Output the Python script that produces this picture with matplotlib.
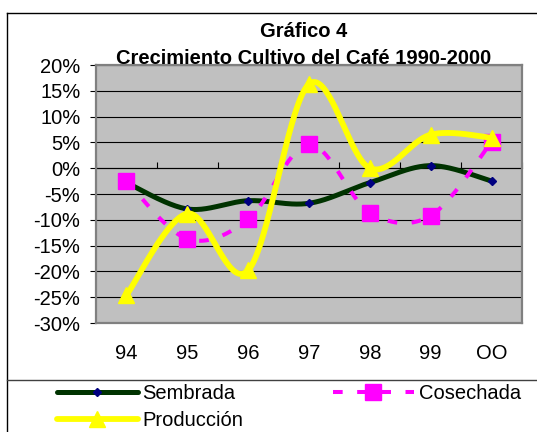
import numpy as np
import matplotlib
matplotlib.use("Agg")
import matplotlib.pyplot as plt
from matplotlib.lines import Line2D

years = ['94', '95', '96', '97', '98', '99', 'OO']
sembrada = [-2.8, -7.9, -6.3, -6.8, -2.8, 0.5, -2.5]
cosechada = [-2.5, -13.7, -9.9, 4.6, -8.6, -9.2, 5.1]
produccion = [-24.6, -8.8, -19.8, 16.3, 0.0, 6.5, 5.9]
yticks = [20, 15, 10, 5, 0, -5, -10, -15, -20, -25, -30]
title_lines = ['Gráfico 4', 'Crecimiento Cultivo del Café 1990-2000']
series_names = ['Sembrada', 'Cosechada', 'Producción']

plt.rcParams['font.family'] = ['Liberation Sans', 'DejaVu Sans']
FS = 14.5

W, H = 537, 432
fig = plt.figure(figsize=(W / 100, H / 100), dpi=100)


def smooth(x, y, n=40):
    pts = np.column_stack([x, y]).astype(float)
    P = np.vstack([pts[0], pts, pts[-1]])
    out = []
    t = np.linspace(0, 1, n)[:, None]
    for i in range(len(pts) - 1):
        p0, p1, p2, p3 = P[i], P[i + 1], P[i + 2], P[i + 3]
        c = 0.5 * ((2 * p1) + (-p0 + p2) * t + (2 * p0 - 5 * p1 + 4 * p2 - p3) * t ** 2
                   + (-p0 + 3 * p1 - 3 * p2 + p3) * t ** 3)
        out.append(c if i == 0 else c[1:])
    c = np.vstack(out)
    return c[:, 0], c[:, 1]


# titles
fig.text(304 / W, 1 - 37.3 / H, title_lines[0], ha='center', va='baseline',
         fontsize=FS, fontweight='bold')
fig.text(304 / W, 1 - 63.5 / H, title_lines[1], ha='center', va='baseline',
         fontsize=FS, fontweight='bold')

left, right, top, bottom = 96, 522, 65, 323
ax = fig.add_axes([left / W, 1 - bottom / H, (right - left) / W, (bottom - top) / H])
ax.set_facecolor('#C0C0C0')
ax.set_zorder(2)

x = np.arange(len(years))
ax.set_xlim(-0.5, len(years) - 0.5)
ax.set_ylim(-30, 20)

for v in yticks:
    ax.axhline(v, color='black', lw=0.8, zorder=1)

DASH = (2.4, 3.6)

# Sembrada
sx, sy = smooth(x, sembrada)
ax.plot(sx, sy, color='#003300', lw=3.6, zorder=3, solid_capstyle='round')
ax.plot(x, sembrada, ls='none', marker='D', ms=4, color='#000080', zorder=3.1)

# Cosechada
cx, cy = smooth(x, cosechada)
ax.plot(cx, cy, color='#FF00FF', lw=2.9, dashes=DASH, zorder=4)
ax.plot(x, cosechada, ls='none', marker='s', ms=11, color='#FF00FF', zorder=4.1)

# Producción
px_, py_ = smooth(x, produccion)
ax.plot(px_, py_, color='#FFFF00', lw=4.2, zorder=5, solid_capstyle='round')
ax.plot(x, produccion, ls='none', marker='^', ms=11, color='#FFFF00', zorder=5.1)

for s in ax.spines.values():
    s.set_color('#808080')
    s.set_linewidth(1.6)

ax.set_yticks(yticks)
ax.set_yticklabels([f'{v}%' for v in yticks])
ax.tick_params(axis='y', length=4.3, width=0.8, pad=7, labelsize=FS, colors='black')
ax.set_xticks(x)
ax.set_xticklabels(years)
ax.tick_params(axis='x', length=0, pad=15, labelsize=FS)

# category axis at 0 with tick marks at boundaries
sec = ax.secondary_xaxis(0.6)
sec.set_xticks(np.arange(len(years) + 1) - 0.5)
sec.set_xticklabels([])
sec.tick_params(axis='x', length=4.5, width=0.8, direction='out', colors='black')
sec.spines['bottom'].set_color('black')
sec.spines['bottom'].set_linewidth(0.8)

# chart frame
fig.add_artist(Line2D([7 / W, 1], [1 - 13 / H, 1 - 13 / H], color='black', lw=1.0))
fig.add_artist(Line2D([7 / W, 7 / W], [0, 1 - 13 / H], color='black', lw=1.0))
fig.add_artist(Line2D([7 / W, 1], [1 - 380 / H, 1 - 380 / H], color='#404040', lw=1.0))

# legend
h1 = Line2D([], [], color='#003300', lw=3.6, marker='D', ms=4, mfc='#000080',
            mec='#000080', solid_capstyle='round')
h2 = Line2D([], [], color='#FF00FF', lw=2.9, dashes=DASH, marker='s', ms=11)
h3 = Line2D([], [], color='#FFFF00', lw=4.2, marker='^', ms=11, solid_capstyle='round')
leg = fig.legend([h1, h3, h2], [series_names[0], series_names[2], series_names[1]],
                 ncol=2, loc='upper left', bbox_to_anchor=(57 / W, 1 - 384 / H),
                 frameon=False, fontsize=FS, handlelength=4.0, handletextpad=0.25,
                 columnspacing=4.45, labelspacing=0.4, borderpad=0.0,
                 borderaxespad=0.0)

fig.savefig('out.png', dpi=100)
